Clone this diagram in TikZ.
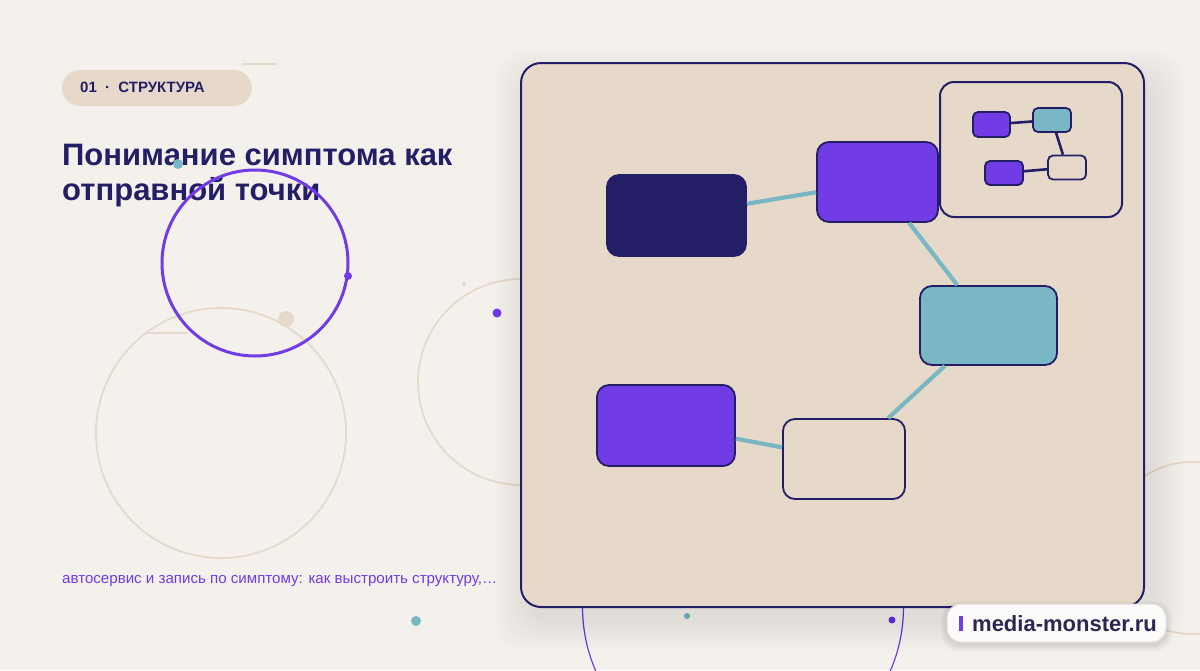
\documentclass[tikz,border=0pt]{standalone}
\usepackage{fontspec}
\setmainfont{Liberation Sans}
\definecolor{bgc}{HTML}{F4F1EC}
\definecolor{beige}{HTML}{E6D9CA}
\definecolor{navy}{HTML}{241E66}
\definecolor{violetc}{HTML}{713CE6}
\definecolor{tealc}{HTML}{78B7C3}
\definecolor{logotext}{HTML}{2B2652}
\begin{document}
\begin{tikzpicture}[x=1pt,y=-1pt,
  box/.style={draw=navy, line width=1.8pt, rounded corners=12pt, inner sep=0pt},
  mini/.style={draw=navy, line width=1.8pt, rounded corners=5pt, inner sep=0pt},
  link/.style={tealc, line width=4.2pt},
  minilink/.style={navy, line width=2.6pt},
  deco/.style={beige, line width=1.8pt}]
\useasboundingbox (0,0) rectangle (1200,670);
\fill[bgc] (0,0) rectangle (1200,670);

% header texts
\node[fill=beige, rounded corners=18pt, minimum width=190pt, minimum height=36pt, inner sep=0pt] (badge) at (157,88) {};
\node[anchor=west, inner sep=0pt, text=navy, font=\bfseries\fontsize{15}{17}\selectfont] (badgetxt) at (80,87.5) {01\hspace{0.55em}·\hspace{0.55em}СТРУКТУРА};
\node[anchor=base west, inner sep=0pt, text=navy, font=\bfseries\fontsize{31}{36}\selectfont] (title1) at (62,165) {Понимание симптома как};
\node[anchor=base west, inner sep=0pt, text=navy, font=\bfseries\fontsize{31}{36}\selectfont] (title2) at (62,200) {отправной точки};
\node[anchor=base west, inner sep=0pt, text=violetc, font=\fontsize{15.1}{18}\selectfont] (caption) at (62,583) {автосервис и запись по симптому: как выстроить структуру,…};

% decoration
\draw[deco] (242,64) -- (277,64);
\draw[deco] (221,433) circle[radius=125pt];
\draw[deco] (147,333) -- (188,333);
\fill[beige] (286,319) circle[radius=8pt];
\draw[violetc, line width=3pt] (255,263) circle[radius=93pt];
\fill[violetc] (348,276) circle[radius=4pt];
\fill[tealc] (178,164) circle[radius=5pt];
\draw[deco] (521,382) circle[radius=103pt];
\fill[black!15] (464,284) circle[radius=2pt];
\fill[violetc] (497,313) circle[radius=4.5pt];
\fill[tealc] (416,621) circle[radius=5pt];
\draw[violetc, line width=1.2pt] (743,607) circle[radius=160.5pt];
\fill[tealc] (687,616) circle[radius=3pt];
\fill[violetc] (892,620) circle[radius=3.5pt];
\draw[deco] (1192,548) circle[radius=86pt];

% panel shadow
\foreach \i in {1,...,20} {
  \fill[black, opacity=0.005, rounded corners=30pt] (521+8-\i*1.8,63+16-\i*1.5) rectangle (1144+6+\i*1.8,607+14+\i*1.5);
}
% panel
\node[draw=navy, fill=beige, line width=2pt, rounded corners=20pt, minimum width=623pt, minimum height=544pt, inner sep=0pt] (panel) at (832.5,335) {};

% main nodes
\node[box, fill=navy, minimum width=139pt, minimum height=81pt] (dark) at (676.5,215.5) {};
\node[box, fill=violetc, minimum width=121pt, minimum height=80pt] (ptop) at (877.5,182) {};
\node[box, fill=tealc, minimum width=137pt, minimum height=79pt] (tealn) at (988.5,325.5) {};
\node[box, fill=violetc, minimum width=138pt, minimum height=81pt] (pbot) at (666,425.5) {};
\node[box, minimum width=122pt, minimum height=80pt] (empty) at (844,459) {};
\draw[link] (dark) -- (ptop);
\draw[link] (ptop) -- (tealn);
\draw[link] (tealn) -- (empty);
\draw[link] (pbot) -- (empty);

% inset
\node[draw=navy, fill=beige, line width=2pt, rounded corners=14pt, minimum width=182pt, minimum height=135pt, inner sep=0pt] (inset) at (1031,149.5) {};
\node[mini, fill=violetc, minimum width=37pt, minimum height=25pt] (ma) at (991.5,124.5) {};
\node[mini, fill=tealc, minimum width=38pt, minimum height=24pt] (mb) at (1052,120) {};
\node[mini, minimum width=38pt, minimum height=24pt] (mc) at (1067,167.5) {};
\node[mini, fill=violetc, minimum width=38pt, minimum height=24pt] (md) at (1004,173) {};
\draw[minilink] (ma) -- (mb);
\draw[minilink] (mb) -- (mc);
\draw[minilink] (md) -- (mc);

% logo
\foreach \i in {1,...,6} {
  \fill[black, opacity=0.015, rounded corners=16pt] (947-\i,604+2-\i*0.8) rectangle (1166+\i,642+3+\i);
}
\node[draw=black!12, fill=white!70!bgc, line width=1pt, rounded corners=14pt, minimum width=219pt, minimum height=38pt, inner sep=0pt] (logo) at (1056.5,623) {};
\fill[violetc] (959,616) rectangle (963,631);
\node[anchor=west, inner sep=0pt, text=logotext, font=\bfseries\fontsize{22}{24}\selectfont] (logotxt) at (972,623.5) {media-monster.ru};
\end{tikzpicture}
\end{document}
